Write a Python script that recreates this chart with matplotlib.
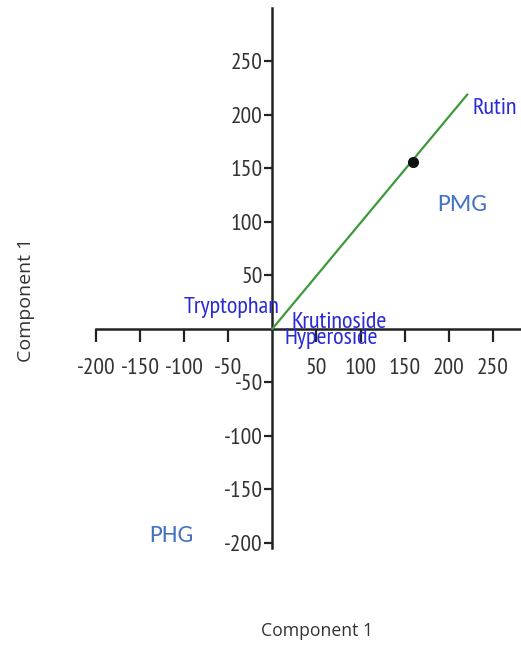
import matplotlib
matplotlib.use("Agg")
import matplotlib.pyplot as plt

plt.rcParams['font.family'] = ['PT Sans Narrow', 'DejaVu Sans']

# Data
line_x = [0, 221]
line_y = [0, 219]
point_x = [159]
point_y = [156]
compounds = ["Rutin", "Tryptophan", "Krutinoside", "Hyperoside"]
comp_x = [227, 8, 22, 13.6]
comp_y = [201, 15, 1, -14]
comp_ha = ["left", "right", "left", "left"]
groups = ["PMG", "PHG"]
group_x = [215, -114]
group_y = [116, -193]
xticks = [-200, -150, -100, -50, 50, 100, 150, 200, 250]
yticks = [-200, -150, -100, -50, 50, 100, 150, 200, 250]

W, H = 521, 645
fig = plt.figure(figsize=(W / 100, H / 100), dpi=100)
ax = fig.add_axes([96 / W, 97 / H, 425 / W, 540 / H])
ax.set_xlim(-200, 282)
ax.set_ylim(-205, 300)

for s in ["top", "right"]:
    ax.spines[s].set_visible(False)
ax.spines["left"].set_position(("data", 0))
ax.spines["bottom"].set_position(("data", 0))
for s in ["left", "bottom"]:
    ax.spines[s].set_linewidth(1.8)
    ax.spines[s].set_color("#222222")

ax.set_xticks(xticks)
ax.set_yticks(yticks)
ax.set_xticklabels([str(v) for v in xticks])
ax.set_yticklabels([str(v) for v in yticks])
ax.tick_params(axis="x", direction="out", length=9, width=1.6, pad=12,
               labelsize=17, colors="#222222", labelcolor="#333333")
ax.tick_params(axis="y", direction="out", length=5.5, width=1.6, pad=1.5,
               labelsize=17, colors="#222222", labelcolor="#333333")

ax.plot(line_x, line_y, color="#3c9a3c", lw=1.6, zorder=3)
ax.plot(point_x, point_y, "o", color="#111111", ms=7, zorder=4)

for name, x, y, ha in zip(compounds, comp_x, comp_y, comp_ha):
    ax.text(x, y, name, color="#2a2ad8", fontsize=17.5, ha=ha, va="baseline")

for name, x, y in zip(groups, group_x, group_y):
    ax.text(x, y, name, color="#4472C4", fontsize=18, ha="center", va="center",
            family=["Carlito", "DejaVu Sans"])

fig.text(317 / W, 1 - 631 / H, "Component 1", ha="center", va="center",
         fontsize=12.7, color="#333333", family=["Open Sans", "DejaVu Sans"])
fig.text(26 / W, 1 - 300 / H, "Component 1", ha="center", va="center",
         rotation=90, fontsize=14, color="#333333", family=["Open Sans", "DejaVu Sans"])

fig.savefig("out.png", dpi=100)
